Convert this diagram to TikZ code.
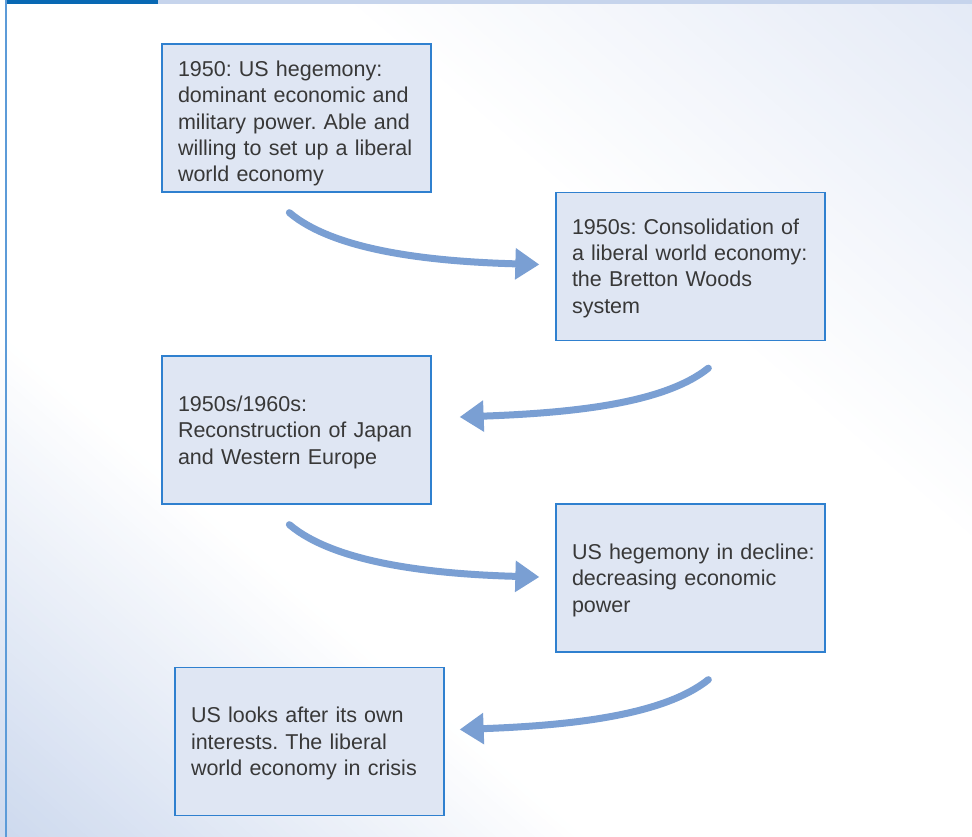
\documentclass[tikz,border=0pt]{standalone}
\usepackage{fontspec}
\setmainfont{Liberation Sans}
\usetikzlibrary{arrows.meta,calc}
\definecolor{boxfill}{HTML}{DFE6F3}
\definecolor{boxline}{HTML}{2F80CF}
\definecolor{arrowcol}{HTML}{7A9FD3}
\definecolor{txt}{HTML}{383838}
\definecolor{bardark}{HTML}{0868B3}
\definecolor{barlight}{HTML}{C6D4EC}
\definecolor{leftline}{HTML}{5C9BD8}
\definecolor{bgbl}{HTML}{CDD9EE}
\definecolor{bgtr}{HTML}{E4EAF6}
\newcommand{\tline}[1]{\mbox{#1}}
\newcommand{\padtop}[1]{\rule{0pt}{\dimexpr\fontcharht\font`l+#1pt\relax}}
\tikzset{
  stagebox/.style={draw=boxline, line width=1.3pt, fill=boxfill,
    minimum width=269pt, minimum height=148pt, text width=237pt,
    inner xsep=16pt, inner ysep=0pt, align=left, text=txt,
    font=\fontsize{21.5}{26.4}\selectfont\frenchspacing},
  flowarrow/.style={draw=arrowcol, line width=7pt, line cap=round,
    -{Triangle[length=24pt,width=30pt]}}
}
\begin{document}
\begin{tikzpicture}[x=1pt,y=-1pt]
\useasboundingbox (0,0) rectangle (972,837);
% background: bands parallel to the main diagonal
\fill[white] (0,0) rectangle (972,837);
\foreach \i in {0,...,59}{
  \pgfmathsetmacro{\sa}{0.4+0.6*\i/60}
  \pgfmathsetmacro{\sb}{min(1,0.4+0.6*(\i+1.3)/60)}
  \pgfmathsetmacro{\pc}{100*(\i+0.5)/60}
  \fill[bgbl!\pc!white] (0,{\sa*837}) -- (0,{\sb*837}) -- ({(1-\sb)*972},837) -- ({(1-\sa)*972},837) -- cycle;
}
\foreach \i in {0,...,59}{
  \pgfmathsetmacro{\ta}{0.35+0.65*\i/60}
  \pgfmathsetmacro{\tb}{min(1,0.35+0.65*(\i+1.3)/60)}
  \pgfmathsetmacro{\pc}{100*(\i+0.5)/60}
  \fill[bgtr!\pc!white] ({\ta*972},0) -- ({\tb*972},0) -- (972,{(1-\tb)*837}) -- (972,{(1-\ta)*837}) -- cycle;
}
\fill[barlight] (6,0) rectangle (972,4.3);
\fill[bardark] (6,0) rectangle (158,4.3);
\fill[leftline] (5,0) rectangle (7,837);
% boxes
\node[stagebox] (b1) at (296.5,118) {\tline{\padtop{12}1950: US hegemony:}\\\tline{dominant economic and}\\\tline{military power. Able and}\\\tline{willing to set up a liberal}\\\tline{world economy}};
\node[stagebox] (b2) at (690.5,266.5) {\tline{\padtop{4}1950s: Consolidation of}\\\tline{a liberal world economy:}\\\tline{the Bretton Woods}\\\tline{system}};
\node[stagebox] (b3) at (296.5,430) {\tline{\padtop{5}1950s/1960s:}\\\tline{Reconstruction of Japan}\\\tline{and Western Europe}};
\node[stagebox] (b4) at (690.5,578) {\tline{\padtop{5}US hegemony in decline:}\\\tline{decreasing economic}\\\tline{power}};
\node[stagebox] (b5) at (309.5,741.5) {\tline{\padtop{5}US looks after its own}\\\tline{interests. The liberal}\\\tline{world economy in crisis}};
% arrow end points
\coordinate (a1s) at ($(b1.south west)+(128,20)$);
\coordinate (a1e) at ($(b2.west)+(-16,-2)$);
\coordinate (a2s) at ($(b2.south west)+(153,27)$);
\coordinate (a2e) at ($(b3.east)+(28,-13)$);
\coordinate (a3s) at ($(b3.south west)+(128,20)$);
\coordinate (a3e) at ($(b4.west)+(-16,-1)$);
\coordinate (a4s) at ($(b4.south west)+(153,27)$);
\coordinate (a4e) at ($(b5.east)+(15,-12)$);
\draw[flowarrow] (a1s) .. controls ($(a1s)+(45,38)$) and ($(a1e)+(-110,-3)$) .. (a1e);
\draw[flowarrow] (a2s) .. controls ($(a2s)+(-45,36)$) and ($(a2e)+(110,-4)$) .. (a2e);
\draw[flowarrow] (a3s) .. controls ($(a3s)+(45,38)$) and ($(a3e)+(-110,-3)$) .. (a3e);
\draw[flowarrow] (a4s) .. controls ($(a4s)+(-45,36)$) and ($(a4e)+(110,-4)$) .. (a4e);
\end{tikzpicture}
\end{document}
